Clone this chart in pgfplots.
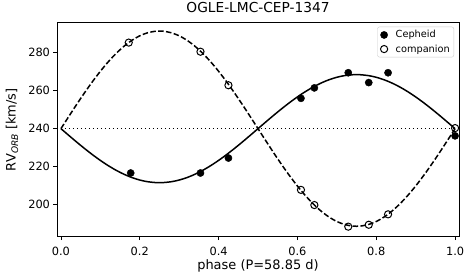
\documentclass[border=0pt]{standalone}
\usepackage{fontspec}
\setmainfont{DejaVu Sans}
\usepackage{pgfplots}
\pgfplotsset{compat=1.18}
\begin{document}
\begin{tikzpicture}
\useasboundingbox (-57bp,-39.3bp) rectangle (416bp,236.7bp);
\begin{axis}[
  scale only axis, width=402bp, height=214bp,
  xmin=-0.01, xmax=1.01, ymin=183.0, ymax=295.9,
  xtick={0,0.2,0.4,0.6,0.8,1.0}, ytick={200,220,240,260,280},
  tick pos=left, tick align=outside, major tick length=3.5bp,
  every tick/.style={black, line width=0.8bp},
  axis line style={line width=0.8bp},
  /pgf/number format/assume math mode=true,
  xticklabel style={/pgf/number format/.cd, fixed, fixed zerofill, precision=1, /tikz/.cd, yshift=-3bp},
  tick label style={font=\fontsize{11.4}{13}\selectfont},
  xlabel={phase (P=58.85 d)},
  ylabel={RV\textsubscript{\itshape ORB} [km/s]},
  label style={font=\fontsize{13}{15}\selectfont},
  xlabel style={at={(axis description cs:0.5,0)}, anchor=center, yshift=-29bp},
  ylabel style={at={(axis description cs:-0.112,0.5)}, anchor=center},
  title={OGLE-LMC-CEP-1347},
  title style={font=\fontsize{13.8}{16}\selectfont, at={(axis description cs:0.5,1)}, anchor=center, yshift=9bp},
  legend style={at={(axis description cs:1,1)}, xshift=-5bp, yshift=-4bp, anchor=north east,
    draw=black!20, rounded corners=2bp, font=\fontsize{9.8}{11}\selectfont,
    inner xsep=3bp, inner ysep=2.6bp, nodes={inner sep=1bp}, row sep=3.2bp, column sep=7bp},
  legend cell align=left,
  legend image code/.code={\draw[mark repeat=2,mark phase=2,#1] plot coordinates {(0bp,0bp) (10.3bp,0bp) (20.6bp,0bp)};},
]
\addplot[black, line width=1.5bp, dash pattern=on 1.5bp off 2.5bp, forget plot] coordinates {(0,240) (1,240)};
\addplot[black, line width=1.5bp, smooth, forget plot] coordinates {
(0.00,240.00) (0.02,236.43) (0.04,232.91) (0.06,229.51) (0.08,226.27) (0.10,223.25)
(0.12,220.49) (0.14,218.04) (0.16,215.94) (0.18,214.21) (0.20,212.89) (0.22,212.00)
(0.24,211.56) (0.25,211.50) (0.26,211.56) (0.28,212.00) (0.30,212.89) (0.32,214.21)
(0.34,215.94) (0.36,218.04) (0.38,220.49) (0.40,223.25) (0.42,226.27) (0.44,229.51)
(0.46,232.91) (0.48,236.43) (0.50,240.00) (0.52,243.57) (0.54,247.09) (0.56,250.49)
(0.58,253.73) (0.60,256.75) (0.62,259.51) (0.64,261.96) (0.66,264.06) (0.68,265.79)
(0.70,267.11) (0.72,268.00) (0.74,268.44) (0.75,268.50) (0.76,268.44) (0.78,268.00)
(0.80,267.11) (0.82,265.79) (0.84,264.06) (0.86,261.96) (0.88,259.51) (0.90,256.75)
(0.92,253.73) (0.94,250.49) (0.96,247.09) (0.98,243.57) (1.00,240.00)};
\addplot[black, line width=1.5bp, dash pattern=on 5.5bp off 2.4bp, smooth, forget plot] coordinates {
(0.00,240.00) (0.02,246.45) (0.04,252.81) (0.06,258.96) (0.08,264.81) (0.10,270.27)
(0.12,275.25) (0.14,279.68) (0.16,283.48) (0.18,286.60) (0.20,288.98) (0.22,290.59)
(0.24,291.40) (0.25,291.50) (0.26,291.40) (0.28,290.59) (0.30,288.98) (0.32,286.60)
(0.34,283.48) (0.36,279.68) (0.38,275.25) (0.40,270.27) (0.42,264.81) (0.44,258.96)
(0.46,252.81) (0.48,246.45) (0.50,240.00) (0.52,233.55) (0.54,227.19) (0.56,221.04)
(0.58,215.19) (0.60,209.73) (0.62,204.75) (0.64,200.32) (0.66,196.52) (0.68,193.40)
(0.70,191.02) (0.72,189.41) (0.74,188.60) (0.75,188.50) (0.76,188.60) (0.78,189.41)
(0.80,191.02) (0.82,193.40) (0.84,196.52) (0.86,200.32) (0.88,204.75) (0.90,209.73)
(0.92,215.19) (0.94,221.04) (0.96,227.19) (0.98,233.55) (1.00,240.00)};
\addplot[only marks, mark=*, mark size=3.6bp, black] coordinates {
(0.177,216.6) (0.354,216.6) (0.425,224.5) (0.609,256.0) (0.643,261.5)
(0.729,269.5) (0.781,264.3) (0.830,269.5) (1.000,236.2)};
\addlegendentry{Cepheid}
\addplot[only marks, mark=o, mark size=3.6bp, black, line width=1bp] coordinates {
(0.172,285.4) (0.354,280.6) (0.425,262.9) (0.609,207.7) (0.643,199.7)
(0.729,188.3) (0.781,189.3) (0.830,194.8) (1.000,240.3)};
\addlegendentry{companion}
\end{axis}
\end{tikzpicture}
\end{document}
